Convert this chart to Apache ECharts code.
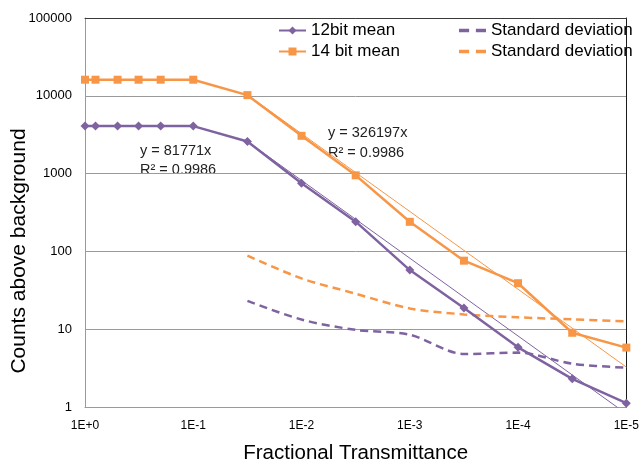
<!DOCTYPE html>
<html>
<head>
<meta charset="utf-8">
<script src="https://cdn.jsdelivr.net/npm/echarts@6/dist/echarts.min.js"></script>
<style>
    html, body { margin: 0; padding: 0; background: #fff; }
    #chart { width: 642px; height: 469px; }
</style>
</head>
<body>
<div id="chart"></div>
<script>
    // fractional transmittance of each measurement
    const transmittance = [1, 0.8, 0.5, 0.32, 0.2, 0.1, 0.0316, 0.01, 0.00316, 0.001, 0.000316, 0.0001, 0.0000316, 0.00001];
    const mean12 = [4080, 4080, 4080, 4080, 4080, 4080, 2580, 750, 241, 57.5, 18.7, 5.85, 2.3, 1.12];
    const mean14 = [16100, 16100, 16100, 16100, 16100, 16100, 10200, 3060, 950, 240, 76, 39, 9, 5.8];
    // standard deviation only measured from 0.0316 down
    const stdX = [0.0316, 0.01, 0.00316, 0.001, 0.000316, 0.0001, 0.0000316, 0.00001];
    const std12 = [23.1, 13.3, 9.8, 8.5, 4.8, 5.0, 3.6, 3.2];
    const std14 = [88, 45, 28.6, 18.5, 15.5, 14.2, 13.4, 12.6];
    // linear fits (y = a*x) drawn over the fitted range
    const trend12 = [[0.0316, 2584], [0.00001, 0.818]];
    const trend14 = [[0.0316, 10308], [0.00001, 3.26]];
    const yTicks = [1, 10, 100, 1000, 10000, 100000];

    const purple = '#7f63a1';
    const orange = '#f79646';
    const font = 'Liberation Sans';
    // two short dashes, like the dashed series
    const dashIcon = 'path://M0,0h9v3h-9zM15,0h9v3h-9z';

    const pair = (xs, ys) => xs.map((x, i) => [x, ys[i]]);

    const chart = echarts.init(document.getElementById('chart'));
    chart.setOption({
        animation: false,
        textStyle: { fontFamily: font },
        grid: { left: 85, right: 3, top: 18, bottom: 57 },
        legend: [{
            orient: 'vertical',
            left: 273,
            top: 17,
            itemWidth: 27,
            itemHeight: 10,
            itemGap: 4,
            data: ['12bit mean', '14 bit mean'],
            textStyle: { fontSize: 17, color: '#000', fontFamily: font }
        }, {
            orient: 'vertical',
            left: 454,
            top: 17,
            itemWidth: 27,
            itemHeight: 10,
            itemGap: 4,
            data: [
                { name: 'Standard deviation (12bit)', icon: dashIcon },
                { name: 'Standard deviation (14 bit)', icon: dashIcon }
            ],
            formatter: name => name.replace(/ \(.*\)$/, ''),
            textStyle: { fontSize: 17, color: '#000', fontFamily: font }
        }],
        xAxis: [{
            type: 'log',
            inverse: true,
            min: 0.00001,
            max: 1,
            name: 'Fractional Transmittance',
            nameLocation: 'middle',
            nameGap: 36,
            nameTextStyle: { fontSize: 20.5, color: '#000', fontFamily: font },
            axisLine: { lineStyle: { color: '#9a9a9a', width: 1 } },
            axisTick: { show: false },
            splitLine: { show: false },
            axisLabel: {
                fontSize: 12,
                color: '#000',
                margin: 13,
                formatter: v => {
                    const e = Math.round(Math.log10(v));
                    return '1E' + (e >= 0 ? '+' + e : e);
                }
            }
        }, {
            // top border of the plot area
            type: 'log',
            position: 'top',
            inverse: true,
            min: 0.00001,
            max: 1,
            axisLine: { show: true, lineStyle: { color: '#3a3a3a', width: 1 } },
            axisTick: { show: false },
            axisLabel: { show: false },
            splitLine: { show: false }
        }],
        yAxis: [{
            type: 'log',
            min: 1,
            max: 100000,
            axisLine: { show: true, lineStyle: { color: '#9a9a9a', width: 1 } },
            axisTick: { show: false },
            splitLine: { show: true, lineStyle: { color: '#9a9a9a', width: 1 } },
            axisLabel: {
                fontSize: 13,
                color: '#000',
                margin: 13,
                formatter: v => yTicks.includes(Math.round(v)) ? String(Math.round(v)) : ''
            }
        }, {
            // right border of the plot area
            type: 'value',
            position: 'right',
            min: 0,
            max: 1,
            axisLine: { show: true, lineStyle: { color: '#1a1a1a', width: 1 } },
            axisTick: { show: false },
            axisLabel: { show: false },
            splitLine: { show: false }
        }],
        graphic: [{
            type: 'text',
            x: 19,
            y: 251,
            rotation: Math.PI / 2,
            style: {
                text: 'Counts above background',
                font: '21px "Liberation Sans"',
                fill: '#000',
                textAlign: 'center',
                textVerticalAlign: 'middle'
            }
        }, {
            type: 'text',
            left: 140,
            top: 141,
            style: {
                text: 'y = 81771x\nR² = 0.9986',
                font: '14.5px "Liberation Sans"',
                lineHeight: 19,
                fill: '#222'
            }
        }, {
            type: 'text',
            left: 328,
            top: 123,
            style: {
                text: 'y = 326197x\nR² = 0.9986',
                font: '14.5px "Liberation Sans"',
                lineHeight: 20,
                fill: '#222'
            }
        }],
        series: [{
            name: 'Fit 12bit',
            type: 'line',
            data: trend12,
            symbol: 'none',
            lineStyle: { color: purple, width: 1 },
            itemStyle: { color: purple },
            z: 1
        }, {
            name: 'Fit 14 bit',
            type: 'line',
            data: trend14,
            symbol: 'none',
            lineStyle: { color: orange, width: 1 },
            itemStyle: { color: orange },
            z: 1
        }, {
            name: 'Standard deviation (12bit)',
            type: 'line',
            data: pair(stdX, std12),
            symbol: 'none',
            smooth: 0.3,
            lineStyle: { color: purple, width: 2.5, type: [8, 5] },
            itemStyle: { color: purple },
            z: 2
        }, {
            name: 'Standard deviation (14 bit)',
            type: 'line',
            data: pair(stdX, std14),
            symbol: 'none',
            smooth: 0.3,
            lineStyle: { color: orange, width: 2.5, type: [8, 5] },
            itemStyle: { color: orange },
            z: 2
        }, {
            name: '12bit mean',
            type: 'line',
            data: pair(transmittance, mean12),
            symbol: 'diamond',
            symbolSize: 9,
            lineStyle: { color: purple, width: 2.5 },
            itemStyle: { color: purple },
            z: 3
        }, {
            name: '14 bit mean',
            type: 'line',
            data: pair(transmittance, mean14),
            symbol: 'rect',
            symbolSize: 8,
            lineStyle: { color: orange, width: 2.5 },
            itemStyle: { color: orange },
            z: 3
        }]
    });
</script>
</body>
</html>
